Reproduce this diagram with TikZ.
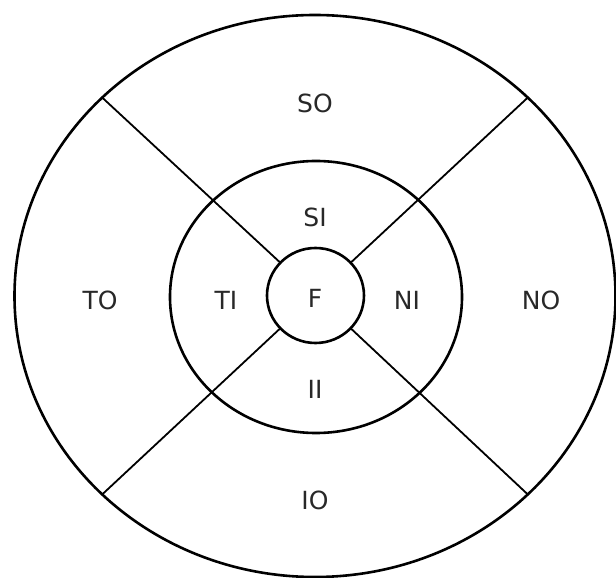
\documentclass[tikz,border=0pt]{standalone}
\usepackage{fontspec}
\setmainfont{DejaVu Sans}
\usetikzlibrary{shapes.geometric}
\definecolor{ink}{RGB}{40,40,40}

\begin{document}
\begin{tikzpicture}[
  x=1pt, y=1pt,
  every node/.style={font=\fontsize{25}{29}\selectfont, text=ink},
  ring/.style={draw=black, ellipse, line width=2.6pt, inner sep=0pt, outer sep=0pt},
  spoke/.style={draw=black, line width=1.8pt},
]
\useasboundingbox (-315,-282) rectangle (301,296);

% the three rings
\node[ring, minimum width=601pt, minimum height=562pt] (outer) at (0,0) {};
\node[ring, minimum width=292pt, minimum height=272pt] (middle) at (1,-1) {};
\node[ring, minimum width=97pt, minimum height=95pt] (inner) at (0.5,0.5) {};

% quadrant spokes
\foreach \a in {43,137,223,317}
  \draw[spoke] (inner.\a) -- (outer.\a);

% sector labels
\node (so) at (0,193) {SO};
\node (si) at (0,79) {SI};
\node (fov) at (0,-2) {F};
\node (ii) at (0,-93) {II};
\node (io) at (0,-204) {IO};
\node (to) at (-215,-4) {TO};
\node (ti) at (-89,-4) {TI};
\node (ni) at (92,-4) {NI};
\node (no) at (226,-4) {NO};
\end{tikzpicture}
\end{document}
